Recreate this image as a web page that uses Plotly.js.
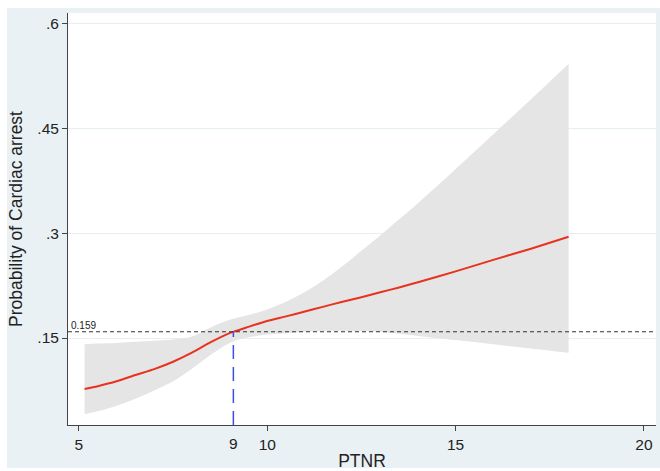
<!DOCTYPE html>
<html>
<head>
<meta charset="utf-8">
<script src="https://cdn.plot.ly/plotly-3.0.1.min.js"></script>
<style>
  html, body { margin: 0; padding: 0; background: #ffffff; }
  #wrap { position: relative; width: 660px; height: 471px; background: #ffffff; overflow: hidden; }
  #bg { position: absolute; left: 7px; top: 8px; width: 653px; height: 460px; background: #eaf1f4; }
  #chart { position: absolute; left: 0; top: 0; width: 660px; height: 471px; }
</style>
</head>
<body>
<div id="wrap"><div id="bg"></div><div id="chart"></div></div>
<script>
// PTNR values
const ptnr = [5.15, 5.5, 6, 6.5, 7, 7.5, 8, 8.5, 9, 9.5, 10, 10.5, 11, 11.5, 12, 12.5, 13, 13.5, 14, 15, 16, 17, 18];
// predicted probability
const prob = [0.077, 0.081, 0.088, 0.097, 0.1055, 0.116, 0.129, 0.144, 0.157, 0.166, 0.1745, 0.181, 0.188, 0.195, 0.202, 0.2085, 0.2155, 0.2225, 0.230, 0.2455, 0.262, 0.278, 0.295];
// confidence band
const ciUpper = [0.141, 0.142, 0.143, 0.1445, 0.146, 0.148, 0.152, 0.165, 0.176, 0.183, 0.191, 0.202, 0.216, 0.233, 0.253, 0.275, 0.297, 0.320, 0.343, 0.392, 0.442, 0.492, 0.543];
const ciLower = [0.041, 0.045, 0.053, 0.063, 0.075, 0.088, 0.106, 0.126, 0.143, 0.151, 0.155, 0.157, 0.159, 0.160, 0.160, 0.160, 0.159, 0.156, 0.153, 0.147, 0.141, 0.135, 0.129];
// reference values
const thresholdX = 9.1;
const thresholdY = 0.159;
const thresholdXLabel = "9";
const thresholdYLabel = "0.159";
const xTicks = [5, 10, 15, 20];
const yTicks = [0.15, 0.3, 0.45, 0.6];
const yTickText = [".15", ".3", ".45", ".6"];

const font = "Liberation Sans, Arial, Helvetica, sans-serif";

const traces = [
  { x: ptnr, y: ciUpper, type: "scatter", mode: "lines", line: { width: 0, shape: "spline", smoothing: 1 }, hoverinfo: "skip", showlegend: false },
  { x: ptnr, y: ciLower, type: "scatter", mode: "lines", fill: "tonexty", fillcolor: "#e5e5e5", line: { width: 0, shape: "spline", smoothing: 1 }, hoverinfo: "skip", showlegend: false },
  { x: ptnr, y: prob, type: "scatter", mode: "lines", line: { color: "#e8321e", width: 2, shape: "spline", smoothing: 0.6 }, showlegend: false }
];

const layout = {
  width: 660, height: 471,
  paper_bgcolor: "rgba(0,0,0,0)",
  plot_bgcolor: "#ffffff",
  margin: { l: 68, r: 4, t: 13, b: 46 },
  font: { family: font, color: "#222", size: 15 },
  showlegend: false,
  xaxis: {
    range: [4.71, 20.32], tickvals: xTicks, ticks: "outside", ticklen: 5, tickcolor: "#444",
    showline: true, linecolor: "#444", linewidth: 1, showgrid: false, zeroline: false,
    tickfont: { size: 15.5, family: font, color: "#222" },
    title: { text: "PTNR", font: { size: 17.5, family: font, color: "#222" }, standoff: 4 }
  },
  yaxis: {
    range: [0.0254, 0.6156], tickvals: yTicks, ticktext: yTickText, ticks: "outside", ticklen: 5, tickcolor: "#444",
    showline: true, linecolor: "#444", linewidth: 1, showgrid: true, gridcolor: "#e6eff1", gridwidth: 1, zeroline: false,
    tickfont: { size: 15.5, family: font, color: "#222" },
    title: { text: "Probability of Cardiac arrest", font: { size: 17.5, family: font, color: "#222" }, standoff: 10 }
  },
  shapes: [
    { type: "line", xref: "paper", yref: "y", x0: 0, x1: 1, y0: thresholdY, y1: thresholdY, line: { color: "#333", width: 1.2, dash: "4px,3px" } },
    { type: "line", xref: "x", yref: "y", x0: thresholdX, x1: thresholdX, y0: 0.0254, y1: thresholdY, line: { color: "#3a4fe8", width: 1.5, dash: "14px,8px" } }
  ],
  annotations: [
    { xref: "paper", yref: "y", x: 0.002, y: thresholdY, text: thresholdYLabel, showarrow: false, xanchor: "left", yanchor: "bottom", font: { size: 10, family: font, color: "#222" }, yshift: -1 },
    { xref: "x", yref: "paper", x: thresholdX, y: 0, text: thresholdXLabel, showarrow: false, xanchor: "center", yanchor: "top", yshift: -8, font: { size: 15.5, family: font, color: "#222" } }
  ]
};

Plotly.newPlot("chart", traces, layout, { displayModeBar: false, staticPlot: true });
</script>
</body>
</html>
